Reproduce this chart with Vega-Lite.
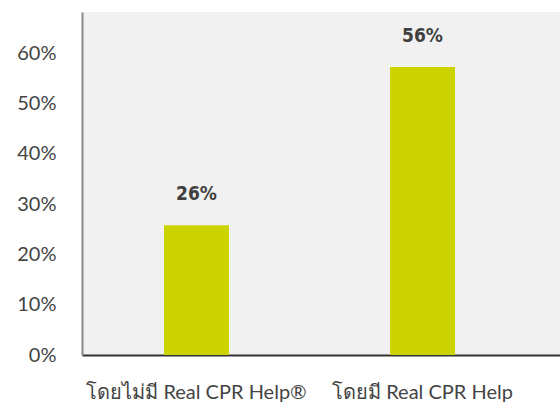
{
  "$schema": "https://vega.github.io/schema/vega-lite/v6.json",
  "autosize": {"type": "none"},
  "padding": {"left": 82, "top": 12, "right": 0, "bottom": 53},
  "width": 478,
  "height": 343,
  "background": "#ffffff",
  "config": {
    "view": {"fill": "#f1f1f1", "stroke": null},
    "font": "Lato"
  },
  "data": {
    "values": [
      {"group": "โดยไม่มี Real CPR Help®", "value": 0.258, "label": "26%"},
      {"group": "โดยมี Real CPR Help", "value": 0.572, "label": "56%"}
    ]
  },
  "encoding": {
    "x": {
      "field": "group", "type": "nominal", "sort": null,
      "scale": {"paddingInner": 0.7124, "paddingOuter": 0.4137, "align": 0.4385},
      "axis": {
        "title": null, "labelAngle": 0, "ticks": false, "domainColor": "#333333", "domainWidth": 2,
        "labelFontSize": 20, "labelColor": "#444444", "labelPadding": 27, "labelFont": "Lato", "labelLimit": 0
      }
    },
    "y": {
      "field": "value", "type": "quantitative",
      "scale": {"domain": [0, 0.6815], "nice": false, "zero": true},
      "axis": {
        "title": null, "values": [0, 0.1, 0.2, 0.3, 0.4, 0.5, 0.6], "format": ".0%",
        "grid": false, "ticks": false, "domainColor": "#888888", "domainWidth": 2,
        "labelFontSize": 20, "labelColor": "#444444", "labelPadding": 26, "labelFont": "Lato"
      }
    }
  },
  "layer": [
    {"mark": {"type": "bar", "color": "#cbd300"}},
    {
      "mark": {"type": "text", "dy": -31, "fontSize": 19, "fontWeight": "bold", "font": "DejaVu Sans Condensed", "color": "#404040", "baseline": "middle"},
      "encoding": {"text": {"field": "label"}}
    }
  ]
}
